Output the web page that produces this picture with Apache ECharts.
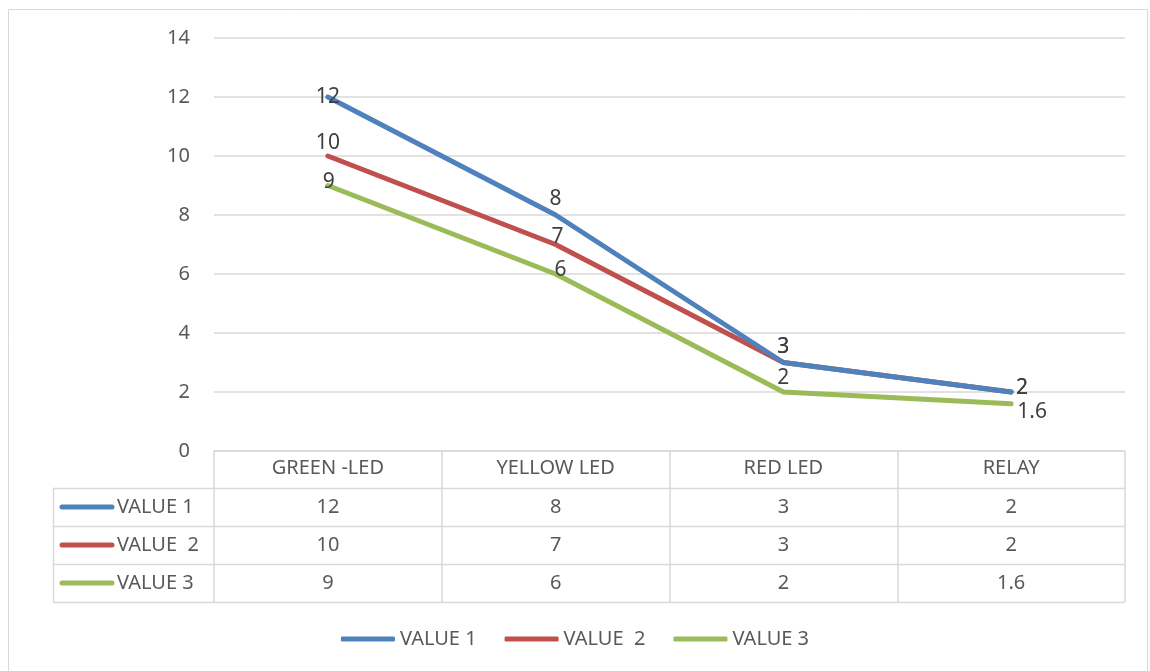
<!DOCTYPE html>
<html>
<head>
<meta charset="utf-8">
<script src="https://cdn.jsdelivr.net/npm/echarts@6/dist/echarts.min.js"></script>
<style>
  html, body { margin: 0; padding: 0; background: #fff; }
  #main { width: 1150px; height: 671px; }
</style>
</head>
<body>
<div id="main"></div>
<script>
// data
var categories = ['GREEN -LED', 'YELLOW LED', 'RED LED', 'RELAY'];
var seriesNames = ['VALUE 1', 'VALUE  2', 'VALUE 3'];
var value1 = [12, 8, 3, 2];
var value2 = [10, 7, 3, 2];
var value3 = [9, 6, 2, 1.6];
var yTicks = [0, 2, 4, 6, 8, 10, 12, 14];

var colors = ['#4f81bd', '#c0504d', '#9bbb59'];
var font = 'Noto Sans';
var fontSize = 20;
var allValues = [value1, value2, value3];

// where excel put the data labels, relative to the point
var labelOffsets = [
    [[0, 0], [0, -16], [0, -15], [11, -4]],
    [[0, -13], [2, -7], [0, -15], [11, -4]],
    [[1, -3], [5, -4], [0, -14], [21, 8]]
];

var myChart = echarts.init(document.getElementById('main'));

function makeSeries(i)
{
    var data = allValues[i].map(function (v, j) {
        return {
            value: v,
            label: { offset: labelOffsets[i][j] }
        };
    });
    return {
        name: seriesNames[i],
        type: 'line',
        data: data,
        symbol: 'circle',
        symbolSize: 1,
        showSymbol: true,
        lineStyle: { width: 5, color: colors[i], cap: 'round' },
        itemStyle: { color: colors[i] },
        label: {
            show: true,
            position: 'inside',
            color: '#404040',
            fontFamily: font,
            fontSize: 21
        },
        z: 3 - i
    };
}

var rowTop = [488, 526, 564, 602];
var gridLeft = 214, gridRight = 1125, tableLeft = 53;

function buildGraphic()
{
    var g = [];
    var textFont = fontSize + 'px "' + font + '"';
    // outer border
    g.push({
        type: 'rect', shape: { x: 8.5, y: 9.5, width: 1139, height: 670 },
        style: { fill: 'none', stroke: '#d9d9d9', lineWidth: 1 }, silent: true
    });
    // horizontal table lines
    for (var r = 0; r < rowTop.length; r++) {
        g.push({
            type: 'line', shape: { x1: tableLeft, y1: rowTop[r] + 0.5, x2: gridRight, y2: rowTop[r] + 0.5 },
            style: { stroke: '#d9d9d9', lineWidth: 1.5 }, silent: true
        });
    }
    // left column border
    g.push({
        type: 'line', shape: { x1: tableLeft + 0.5, y1: rowTop[0], x2: tableLeft + 0.5, y2: rowTop[3] },
        style: { stroke: '#d9d9d9', lineWidth: 1.5 }, silent: true
    });
    for (var i = 0; i < seriesNames.length; i++) {
        var cy = (rowTop[i] + rowTop[i + 1]) / 2;
        // legend key in table
        g.push({
            type: 'line', shape: { x1: 62, y1: cy, x2: 112, y2: cy },
            style: { stroke: colors[i], lineWidth: 5, lineCap: 'round' }, silent: true
        });
        g.push({
            type: 'text', x: 117, y: cy,
            style: { text: seriesNames[i], fill: '#595959', font: textFont, verticalAlign: 'middle' },
            silent: true
        });
        // values
        for (var j = 0; j < categories.length; j++) {
            var px = myChart.convertToPixel({ xAxisIndex: 0 }, categories[j]);
            g.push({
                type: 'text', x: px, y: cy,
                style: {
                    text: String(allValues[i][j]), fill: '#595959', font: textFont,
                    align: 'center', verticalAlign: 'middle'
                },
                silent: true
            });
        }
    }
    return g;
}

myChart.setOption({
    animation: false,
    backgroundColor: '#fff',
    color: colors,
    grid: { left: gridLeft, right: 1150 - gridRight, top: 38, bottom: 671 - 451 },
    legend: {
        data: seriesNames,
        top: 624,
        left: 'center',
        icon: 'roundRect',
        itemWidth: 54,
        itemHeight: 5,
        itemGap: 28,
        textStyle: { color: '#595959', fontFamily: font, fontSize: fontSize, padding: [0, 0, 0, 0] }
    },
    xAxis: {
        type: 'category',
        data: categories,
        boundaryGap: true,
        axisLine: { show: true, lineStyle: { color: '#d9d9d9', width: 1.5 } },
        axisTick: { show: true, length: 151, lineStyle: { color: '#d9d9d9', width: 1.5 } },
        axisLabel: { color: '#595959', fontFamily: font, fontSize: fontSize, margin: 7 }
    },
    yAxis: {
        type: 'value',
        min: yTicks[0],
        max: yTicks[yTicks.length - 1],
        interval: 2,
        axisLine: { show: false },
        axisTick: { show: false },
        axisLabel: { color: '#595959', fontFamily: font, fontSize: fontSize, margin: 24 },
        splitLine: { lineStyle: { color: '#d9d9d9', width: 1.5 } }
    },
    series: [makeSeries(0), makeSeries(1), makeSeries(2)]
});

myChart.setOption({ graphic: buildGraphic() });
</script>
</body>
</html>
